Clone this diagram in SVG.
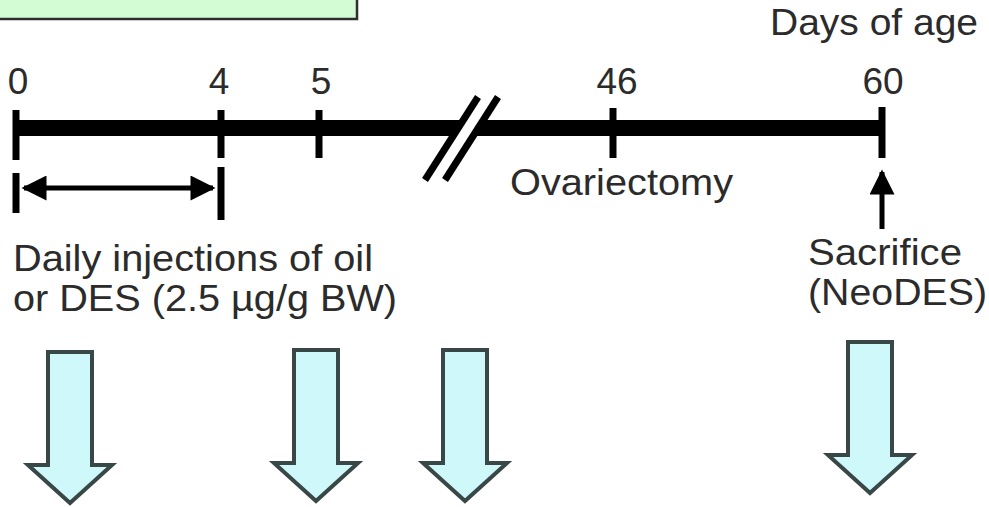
<svg xmlns="http://www.w3.org/2000/svg" width="989" height="507" viewBox="0 0 989 507">
  <style>
    .lbl { font-family: "Liberation Sans", Arial, sans-serif; font-size: 37px; fill: #2b2b2b; }
    .num { text-anchor: middle; }
    .bar { stroke: #000; stroke-width: 16; fill: none; }
    .tick { stroke: #000; stroke-width: 7; fill: none; }
    .thin { stroke: #000; stroke-width: 5; fill: none; }
    .slash { stroke: #000; stroke-width: 7; stroke-linecap: butt; fill: none; }
    .bigarrow { fill: #cef8f9; stroke: #3a4747; stroke-width: 4; stroke-linejoin: miter; }
  </style>
  <defs>
    <marker id="head" viewBox="0 0 10 10" refX="9" refY="5" markerWidth="7" markerHeight="5" markerUnits="strokeWidth" orient="auto-start-reverse">
      <path d="M0,0 L10,5 L0,10 Z" fill="#000"/>
    </marker>
    <!-- hollow downward block arrow, centred on x=0, top at y=0 -->
    <path id="down" d="M-22,0 H22 V113 H42 L0,151 L-42,113 H-22 Z"/>
  </defs>

  <rect width="989" height="507" fill="#fff"/>

  <!-- legend box at the top left -->
  <g id="legend-box">
    <rect x="-4" y="-4" width="361" height="23" fill="#d4fcd4" stroke="#2e2e2e" stroke-width="2.5"/>
  </g>

  <g id="axis-title">
    <text class="lbl" x="770" y="35" textLength="208" lengthAdjust="spacingAndGlyphs">Days of age</text>
  </g>

  <!-- timeline -->
  <g id="connectors">
    <line class="bar" x1="16" y1="128" x2="882" y2="128"/>
    <!-- axis break -->
    <polygon points="451,139 465,117 485,117 471,139" fill="#fff"/>
    <line class="slash" x1="425" y1="180" x2="478" y2="97"/>
    <line class="slash" x1="445" y1="180" x2="498" y2="97"/>
    <!-- ticks -->
    <line class="tick" x1="16" y1="110" x2="16" y2="160"/>
    <line class="tick" x1="221" y1="110" x2="221" y2="158"/>
    <line class="tick" x1="319" y1="110" x2="319" y2="158"/>
    <line class="tick" x1="613" y1="108" x2="613" y2="158"/>
    <line class="tick" x1="882" y1="107" x2="882" y2="158"/>
    <!-- injection period bracket -->
    <line class="tick" x1="16" y1="173" x2="16" y2="213"/>
    <line class="tick" x1="221" y1="167" x2="221" y2="220"/>
    <line class="thin" x1="24" y1="188" x2="213" y2="188" marker-start="url(#head)" marker-end="url(#head)"/>
    <!-- sacrifice pointer -->
    <line class="thin" x1="882" y1="229" x2="882" y2="172" marker-end="url(#head)"/>
  </g>

  <g id="day-labels">
    <text class="lbl num" x="18" y="94">0</text>
    <text class="lbl num" x="219" y="94">4</text>
    <text class="lbl num" x="321" y="94">5</text>
    <text class="lbl num" x="617" y="94">46</text>
    <text class="lbl num" x="883" y="94">60</text>
  </g>

  <g id="ovariectomy">
    <text class="lbl" x="510" y="195" textLength="223" lengthAdjust="spacingAndGlyphs">Ovariectomy</text>
  </g>

  <g id="injections">
    <text class="lbl" x="13" y="271" textLength="360" lengthAdjust="spacingAndGlyphs">Daily injections of oil</text>
    <text class="lbl" x="13" y="311" textLength="384" lengthAdjust="spacingAndGlyphs">or DES (2.5 µg/g BW)</text>
  </g>

  <g id="sacrifice">
    <text class="lbl" x="808" y="265" textLength="154" lengthAdjust="spacingAndGlyphs">Sacrifice</text>
    <text class="lbl" x="808" y="305" textLength="179" lengthAdjust="spacingAndGlyphs">(NeoDES)</text>
  </g>

  <!-- sampling arrows -->
  <g id="arrow-1"><use href="#down" class="bigarrow" transform="translate(70,352)"/></g>
  <g id="arrow-2"><use href="#down" class="bigarrow" transform="translate(316,350)"/></g>
  <g id="arrow-3"><use href="#down" class="bigarrow" transform="translate(465,350)"/></g>
  <g id="arrow-4"><use href="#down" class="bigarrow" transform="translate(870,342)"/></g>
</svg>
